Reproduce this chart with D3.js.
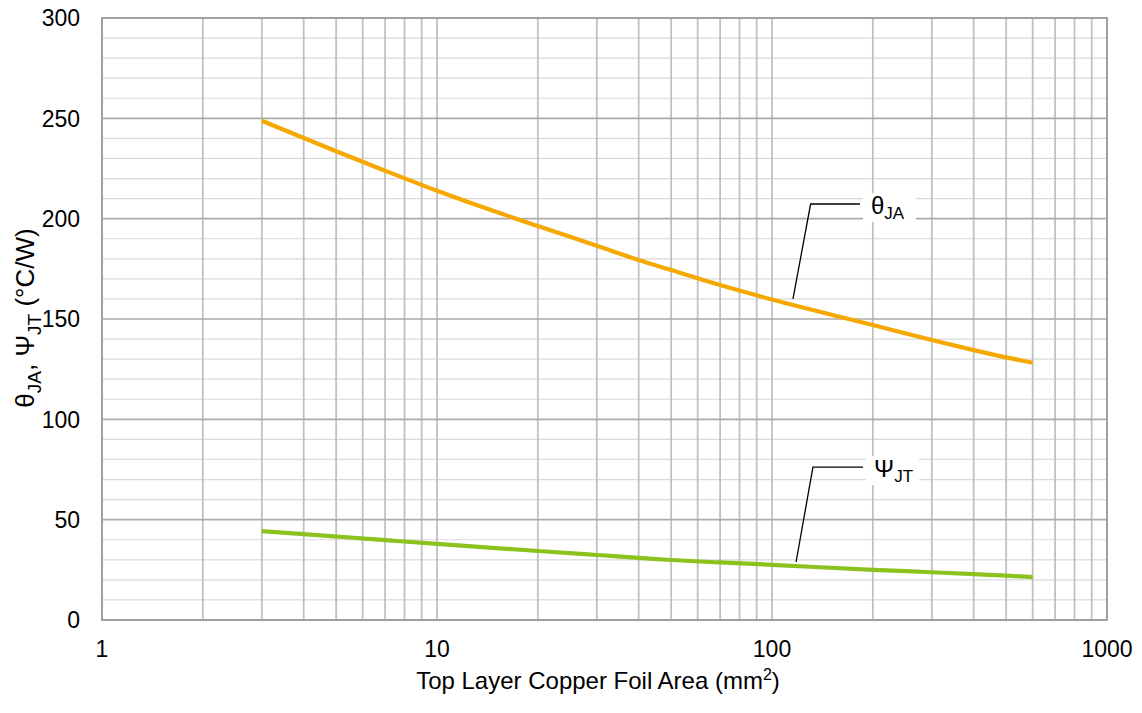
<!DOCTYPE html>
<html>
<head>
<meta charset="utf-8">
<script src="https://cdn.jsdelivr.net/npm/d3@7"></script>
<style>
  body { margin: 0; background: #fff; }
  svg text { font-family: "Liberation Sans", Arial, sans-serif; fill: #000; }
</style>
</head>
<body>
<div id="chart"></div>
<script>
// copper area (mm^2) and the two thermal resistance curves (°C/W)
const areas   = [3, 4, 5, 7, 10, 20, 30, 40, 50, 70, 100, 200, 300, 400, 500, 600];
const thetaJA = [248.8, 240.2, 233.6, 223.9, 213.9, 196.3, 186.5, 179.4, 174.4, 166.9, 159.7, 147.0, 139.5, 134.5, 130.9, 128.2];
const psiJT   = [44.3, 42.8, 41.6, 39.8, 37.9, 34.4, 32.4, 31.0, 29.9, 28.7, 27.5, 25.0, 23.8, 22.9, 22.1, 21.4];

const xTicks = [1, 10, 100, 1000];
const yTicks = [0, 50, 100, 150, 200, 250, 300];

// callout labels: [curve point, elbow, end of horizontal]
const callouts = [
  { name: "θ", sub: "JA", pts: [[115.5, 160], [130.4, 207.3], [183, 207.3]] },
  { name: "Ψ", sub: "JT", pts: [[118, 28.9], [132.5, 76.2], [187, 76.2]] }
];

const W = 1142, H = 713;
const margin = { top: 18, right: 35, bottom: 93, left: 102 };

const svg = d3.select("#chart").append("svg")
  .attr("width", W)
  .attr("height", H);

const x = d3.scaleLog()
  .domain([1, 1000])
  .range([margin.left, W - margin.right]);

const y = d3.scaleLinear()
  .domain([0, 300])
  .range([H - margin.bottom, margin.top]);

// grid: minor horizontal every 10, major every 50
const grid = svg.append("g");
grid.selectAll("line.hmin")
  .data(d3.range(10, 300, 10).filter(v => v % 50 !== 0))
  .enter().append("line")
  .attr("x1", x(1)).attr("x2", x(1000))
  .attr("y1", d => y(d)).attr("y2", d => y(d))
  .attr("stroke", "#d9d9d9").attr("stroke-width", 1.2);

const vlines = [];
for (let dec = 1; dec < 1000; dec *= 10) {
  for (let k = 1; k < 10; k++) vlines.push(dec * k);
}
grid.selectAll("line.v")
  .data(vlines.filter(v => v > 1))
  .enter().append("line")
  .attr("x1", d => x(d)).attr("x2", d => x(d))
  .attr("y1", y(0)).attr("y2", y(300))
  .attr("stroke", "#c0c0c0").attr("stroke-width", 1.8);

grid.selectAll("line.hmaj")
  .data(yTicks.filter(v => v > 0 && v < 300))
  .enter().append("line")
  .attr("x1", x(1)).attr("x2", x(1000))
  .attr("y1", d => y(d)).attr("y2", d => y(d))
  .attr("stroke", "#ababab").attr("stroke-width", 1.6);

// plot border
svg.append("rect")
  .attr("x", x(1)).attr("y", y(300))
  .attr("width", x(1000) - x(1))
  .attr("height", y(0) - y(300))
  .attr("fill", "none")
  .attr("stroke", "#a0a0a0")
  .attr("stroke-width", 2);

// tick labels
svg.append("g").selectAll("text")
  .data(yTicks)
  .enter().append("text")
  .attr("x", margin.left - 22)
  .attr("y", d => y(d))
  .attr("dy", "0.36em")
  .attr("text-anchor", "end")
  .attr("font-size", 23)
  .text(d => d);

svg.append("g").selectAll("text")
  .data(xTicks)
  .enter().append("text")
  .attr("x", d => x(d))
  .attr("y", 657)
  .attr("text-anchor", "middle")
  .attr("font-size", 23)
  .text(d => d);

// axis titles
const xt = svg.append("text")
  .attr("x", 598)
  .attr("y", 689)
  .attr("text-anchor", "middle")
  .attr("font-size", 24);
xt.append("tspan").text("Top Layer Copper Foil Area (mm");
xt.append("tspan").attr("font-size", 16).attr("dy", -9).text("2");
xt.append("tspan").attr("dy", 9).text(")");

const yt = svg.append("text")
  .attr("transform", "translate(34,318) rotate(-90)")
  .attr("text-anchor", "middle")
  .attr("font-size", 26);
yt.append("tspan").text("θ");
yt.append("tspan").attr("font-size", 19).attr("dy", 7).text("JA");
yt.append("tspan").attr("dy", -7).text(", Ψ");
yt.append("tspan").attr("font-size", 19).attr("dy", 7).text("JT");
yt.append("tspan").attr("dy", -7).text(" (°C/W)");

// curves
const line = d3.line()
  .x(d => x(d[0]))
  .y(d => y(d[1]))
  .curve(d3.curveMonotoneX);

svg.append("path")
  .datum(areas.map((a, i) => [a, thetaJA[i]]))
  .attr("d", line)
  .attr("fill", "none")
  .attr("stroke", "#f5a800")
  .attr("stroke-width", 4.2);

svg.append("path")
  .datum(areas.map((a, i) => [a, psiJT[i]]))
  .attr("d", line)
  .attr("fill", "none")
  .attr("stroke", "#8cc21e")
  .attr("stroke-width", 4.2);

// callouts
callouts.forEach(c => {
  svg.append("polyline")
    .attr("points", c.pts.map(p => [x(p[0]), y(p[1])].join(",")).join(" "))
    .attr("fill", "none")
    .attr("stroke", "#000")
    .attr("stroke-width", 1.3);
  const end = c.pts[2];
  const bx = x(end[0]) + 3, by = y(end[1]);
  svg.append("rect")
    .attr("x", bx).attr("y", by - 11)
    .attr("width", 53).attr("height", 29)
    .attr("fill", "#fff");
  const t = svg.append("text")
    .attr("x", bx + 8)
    .attr("y", by + 10)
    .attr("font-size", 24);
  t.append("tspan").text(c.name);
  t.append("tspan").attr("font-size", 17).attr("dy", 5).text(c.sub);
});
</script>
</body>
</html>
